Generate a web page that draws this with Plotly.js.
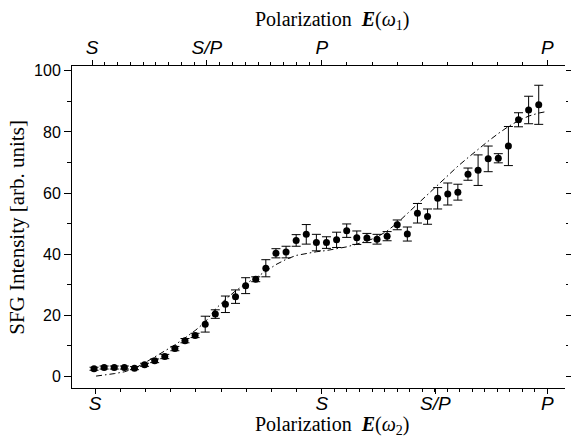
<!DOCTYPE html>
<html>
<head>
<meta charset="utf-8">
<script src="https://cdn.plot.ly/plotly-3.0.1.min.js"></script>
<style>html,body{margin:0;padding:0;background:#fff;} #chart{width:571px;height:437px;}</style>
</head>
<body>
<div id="chart"></div>
<script>
// measurement index (step number)
var stepIndex = [0,1,2,3,4,5,6,7,8,9,10,11,12,13,14,15,16,17,18,19,20,21,22,23,24,25,26,27,28,29,30,31,32,33,34,35,36,37,38,39,40,41,42,43,44];
// measured SFG intensity
var sfgIntensity = [2.5,2.9,2.9,2.9,2.7,3.8,5.1,6.5,9.1,11.7,13.4,17.1,20.4,23.6,26.1,29.7,31.8,35.4,40.3,40.7,44.5,46.5,43.8,43.8,44.7,47.7,45.4,45.3,44.9,45.9,49.6,46.6,53.4,52.3,58.3,59.7,60.3,66.2,67.5,71.2,71.4,75.4,84.0,87.2,88.9];
// error bars (+/-)
var sfgError = [0.5,0.5,0.5,0.5,0.5,0.5,0.6,0.7,0.7,0.7,0.7,2.6,1.4,2.7,2.2,2.6,0.8,2.8,1.5,1.9,1.9,3.2,2.7,1.9,2.5,2.2,2.2,1.5,1.6,1.5,1.6,2.3,3.2,2.5,3.5,3.6,2.6,2.0,5.0,4.2,1.5,6.4,2.3,4.5,6.4];
// theoretical curve (dash-dot)
var modelX = [0.2,1,2,3,4,5,6,7,8,9,10,11,12,13,14,15,16,17,18,19,20,21,22,23,24,25,26,27,28,29,30,31,32,33,34,35,36,37,38,39,40,41,42,43,44,44.8];
var modelY = [0.1,0.4,0.9,1.5,2.6,4.4,6.3,8.2,10.3,12.6,15.0,17.8,22.0,25.2,28.0,30.3,32.3,34.4,36.6,38.3,39.6,40.3,40.8,41.2,41.7,42.4,43.3,44.3,45.6,47.6,50.2,53.3,56.5,59.4,62.5,65.8,68.8,71.6,74.4,77.0,79.5,81.8,83.7,85.2,86.2,86.7];
// axis tick labels
var bottomTickVals = [0.1,22.55,33.77,44.85];
var bottomTickText = ['S','S','S/P','P'];
var topTickVals = [-0.2,11.17,22.55,44.85];
var topTickText = ['S','S/P','P','P'];

function ticksBetween(a,b,n){var o=[];for(var k=1;k<n;k++){o.push(a+(b-a)*k/n);}return o;}
var bottomMinor = ticksBetween(0.1,22.55,9).concat(ticksBetween(22.55,44.85,18));
var topMinor = ticksBetween(-0.2,22.55,18).concat(ticksBetween(22.55,44.85,9));

var xr = [-2.18,46.6], yr = [-3.8,101.6];
var tickFont = {family:'Liberation Sans, Arial, sans-serif', size:19, color:'#000', style:'italic'};

var traces = [
  {x:modelX, y:modelY, mode:'lines', line:{color:'#000', width:1, dash:'6px,3px,1.5px,3px'}, hoverinfo:'skip', showlegend:false},
  {x:stepIndex, y:sfgIntensity, mode:'markers', marker:{color:'#000', size:7},
   error_y:{type:'data', array:sfgError, visible:true, color:'#000', thickness:1, width:4.5}, showlegend:false},
  {x:[null], y:[null], xaxis:'x2', yaxis:'y2', mode:'markers', showlegend:false, hoverinfo:'skip'}
];

var layout = {
  width:571, height:437,
  margin:{l:72, r:6, t:66, b:49},
  paper_bgcolor:'#fff', plot_bgcolor:'#fff',
  showlegend:false,
  xaxis:{range:xr, showgrid:false, zeroline:false, showline:true, linecolor:'#000', linewidth:1,
    ticks:'outside', ticklen:5, tickcolor:'#000', tickmode:'array', tickvals:bottomTickVals, ticktext:bottomTickText,
    tickfont:tickFont, ticklabelstandoff:-7,
    minor:{tickmode:'array', tickvals:bottomMinor, ticks:'outside', ticklen:3, tickcolor:'#000', showgrid:false}},
  xaxis2:{range:xr, overlaying:'x', side:'top', anchor:'y2', showgrid:false, zeroline:false, showline:true, linecolor:'#000', linewidth:1,
    ticks:'outside', ticklen:5, tickcolor:'#000', tickmode:'array', tickvals:topTickVals, ticktext:topTickText,
    tickfont:tickFont, ticklabelstandoff:-2,
    minor:{tickmode:'array', tickvals:topMinor, ticks:'outside', ticklen:3, tickcolor:'#000', showgrid:false}},
  yaxis:{range:yr, showgrid:false, zeroline:false, showline:true, linecolor:'#000', linewidth:1,
    ticks:'outside', ticklen:7, tickcolor:'#000', tickmode:'linear', tick0:0, dtick:20,
    tickfont:{family:'Liberation Sans, Arial, sans-serif', size:16, color:'#000'},
    minor:{tickmode:'linear', tick0:10, dtick:20, ticks:'outside', ticklen:4, tickcolor:'#000', showgrid:false}},
  yaxis2:{range:yr, overlaying:'y', side:'right', anchor:'x2', showgrid:false, zeroline:false, showline:false,
    ticks:'outside', ticklen:5, tickcolor:'#000', tickmode:'linear', tick0:0, dtick:20, showticklabels:false,
    minor:{tickmode:'linear', tick0:10, dtick:20, ticks:'outside', ticklen:2, tickcolor:'#000', showgrid:false}},
  annotations:[
    {xref:'paper', yref:'paper', x:0.527, y:1.14, xanchor:'center', yanchor:'middle', showarrow:false,
     text:'Polarization\u00A0\u00A0<b><i>E</i></b>(<i>\u03C9</i><sub>1</sub>)',
     font:{family:'Liberation Serif, Times New Roman, serif', size:20, color:'#000'}},
    {xref:'paper', yref:'paper', x:0.527, y:-0.118, xanchor:'center', yanchor:'middle', showarrow:false,
     text:'Polarization\u00A0\u00A0<b><i>E</i></b>(<i>\u03C9</i><sub>2</sub>)',
     font:{family:'Liberation Serif, Times New Roman, serif', size:20, color:'#000'}},
    {xref:'paper', yref:'paper', x:-0.112, y:0.5, xanchor:'center', yanchor:'middle', showarrow:false, textangle:-90,
     text:'SFG Intensity [arb. units]',
     font:{family:'Liberation Serif, Times New Roman, serif', size:21, color:'#000'}}
  ]
};

Plotly.newPlot('chart', traces, layout, {displayModeBar:false, staticPlot:true});
</script>
</body>
</html>
